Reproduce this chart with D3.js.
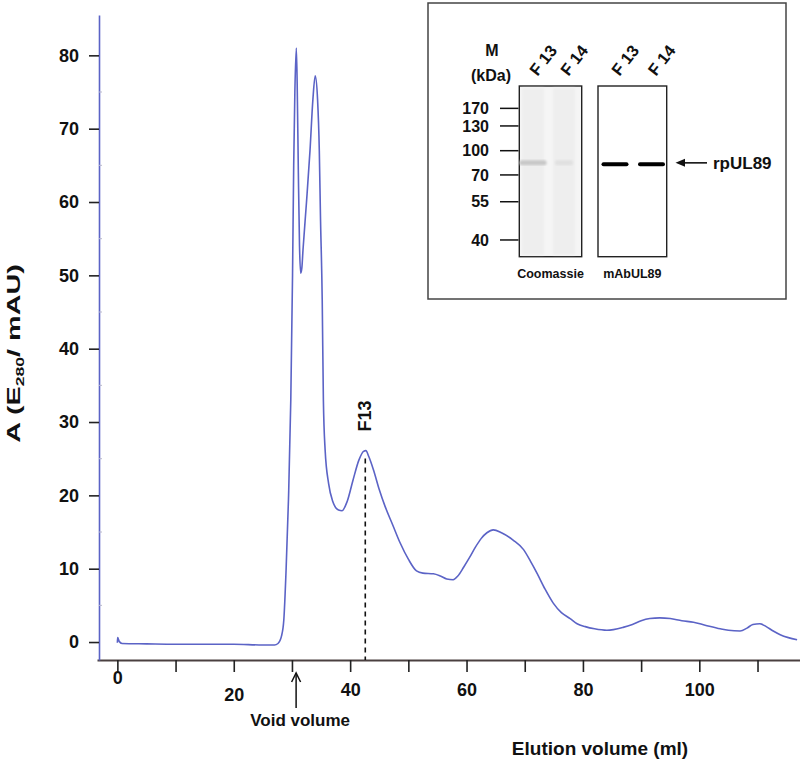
<!DOCTYPE html>
<html>
<head>
<meta charset="utf-8">
<script src="https://cdn.jsdelivr.net/npm/d3@7"></script>
<style>
  html, body { margin: 0; padding: 0; background: #fff; }
  svg { display: block; font-family: "Liberation Sans", Arial, sans-serif; }
</style>
</head>
<body>
<svg id="chart" width="800" height="761"></svg>
<script>
// ---------- DATA ----------
const elutionVolume = [0, 0.05, 0.3, 0.8, 5, 10, 15, 20, 25, 27, 27.6, 28.2, 28.6, 29.0, 29.4, 29.8, 30.1, 30.3, 30.5, 30.75, 30.9, 31.1, 31.3, 31.5, 31.7, 31.9, 32.5, 33.1, 33.6, 34.0, 34.4, 34.7, 34.9, 35.2, 35.4, 35.7, 36.3, 37, 38, 38.6, 39.5, 40.5, 41.5, 42.3, 42.7, 43.2, 44.0, 45, 46, 47.3, 48.6, 50, 51.4, 52.5, 54.3, 55.5, 56.6, 57.7, 58.5, 59.5, 60.5, 61.5, 62.5, 63.5, 64.6, 66, 68, 69.8, 71, 72.1, 73.5, 74.9, 76.3, 77.8, 79, 80.4, 82, 84.1, 86.9, 88.5, 90, 91.5, 93.2, 95, 97, 99, 101, 103.6, 105, 107, 108.2, 109.2, 110.4, 111.5, 112.7, 113.9, 115.3, 116.8];
const absorbance = [-0.1, 0.6, 0.1, -0.2, -0.25, -0.3, -0.3, -0.3, -0.4, -0.4, -0.2, 0.8, 3, 10, 19.4, 33, 50, 65, 75, 81, 76, 64, 54, 50.3, 51, 53.5, 60, 67, 74, 77.2, 74, 67, 58, 46.7, 33, 26.2, 21.6, 19.2, 18.0, 17.9, 19.2, 22.1, 24.8, 26.0, 26.1, 25.3, 23.5, 20.8, 18.5, 16, 13.5, 11.3, 9.7, 9.4, 9.3, 9.0, 8.6, 8.5, 9.0, 10.2, 11.5, 12.9, 14.1, 14.9, 15.3, 14.9, 13.9, 12.6, 11.0, 9.4, 7.2, 5.3, 4.0, 3.2, 2.5, 2.1, 1.8, 1.6, 2.0, 2.4, 2.9, 3.2, 3.3, 3.2, 2.9, 2.7, 2.3, 1.8, 1.6, 1.5, 1.9, 2.4, 2.5, 2.1, 1.5, 1.0, 0.6, 0.3];

const xTicks = [0, 10, 20, 30, 40, 50, 60, 70, 80, 90, 100, 110];
const xTickLabels = ["0", "", "20", "", "40", "", "60", "", "80", "", "100", ""];
const yTicks = [0, 10, 20, 30, 40, 50, 60, 70, 80];
const yMinorTicks = [5, 15, 25, 35, 45, 55, 65, 75];

const fractionLabel = "F13";
const fractionVolume = 42.6;
const voidVolume = 30.8;

// inset gel
const markerKDa = ["170", "130", "100", "70", "55", "40"];
const markerMobility = [0.131, 0.234, 0.379, 0.521, 0.678, 0.902];
const laneLabels = ["F 13", "F 14"];
const coomassieBandMobility = [0.449, 0.449];
const coomassieBandIntensity = [0.22, 0.12];
const westernBandMobility = [0.459, 0.459];
const westernBandIntensity = [1, 1];
const gelNames = ["Coomassie", "mAbUL89"];
const bandName = "rpUL89";

// ---------- CHART ----------
const svg = d3.select("#chart");
const curveColor = "#5b63c6";
const axisDark = "#4a4040";

const x = d3.scaleLinear().domain([-3.5, 117.3]).range([97, 800]);
const y = d3.scaleLinear().domain([-2.45, 85.5]).range([660, 15]);

// X axis
const xAxis = d3.axisBottom(x).tickValues(xTicks)
  .tickFormat((d, i) => xTickLabels[i]).tickSize(12).tickSizeOuter(0).tickPadding(6);
const gx = svg.append("g").attr("transform", `translate(0,${y(-2.45)})`).call(xAxis);
gx.select(".domain").attr("stroke", axisDark).attr("stroke-width", 2);
gx.selectAll(".tick line").attr("stroke", "#222").attr("stroke-width", 1.6);
gx.selectAll(".tick text")
  .attr("font-size", 18).attr("font-weight", "bold").attr("fill", "#111")
  .attr("font-family", "Liberation Sans, Arial, sans-serif")
  .attr("dy", d => d === 0 ? "0.35em" : d === 20 ? "1.3em" : "1.0em");

// Y axis
const yAxis = d3.axisLeft(y).tickValues(yTicks).tickSize(10).tickSizeOuter(0).tickPadding(10);
const gy = svg.append("g").attr("transform", `translate(${x(-3.5) + 2},0)`).call(yAxis);
gy.select(".domain").attr("stroke", curveColor).attr("stroke-width", 1.6);
gy.selectAll(".tick line").attr("stroke", "#222").attr("stroke-width", 1.6);
gy.selectAll(".tick text")
  .attr("font-size", 18).attr("font-weight", "bold").attr("fill", "#111")
  .attr("font-family", "Liberation Sans, Arial, sans-serif");
gy.selectAll(".minor").data(yMinorTicks).join("line")
  .attr("x1", 0).attr("x2", 3).attr("y1", d => y(d)).attr("y2", d => y(d))
  .attr("stroke", "#b8b8cc").attr("stroke-width", 1);

// Y label (stretched along its reading direction, as in the original)
const yl = svg.append("text")
  .attr("transform", "translate(20,353.5) rotate(-90) scale(1.6,1)")
  .attr("text-anchor", "middle").attr("font-size", 18).attr("font-weight", "bold").attr("fill", "#111");
yl.append("tspan").text("A (E");
yl.append("tspan").text("280").attr("font-size", 11).attr("dy", 4);
yl.append("tspan").text("/ mAU)").attr("dy", -4);

// X label
svg.append("text").attr("x", 600).attr("y", 755).attr("text-anchor", "middle")
  .attr("font-size", 19).attr("font-weight", "bold").attr("fill", "#111")
  .text("Elution volume (ml)");

// Fraction dashed line
const peakIdx = d3.minIndex(elutionVolume, v => Math.abs(v - fractionVolume));
svg.append("line")
  .attr("x1", x(fractionVolume)).attr("x2", x(fractionVolume))
  .attr("y1", y(absorbance[peakIdx]) + 8).attr("y2", y(-2.45))
  .attr("stroke", "#111").attr("stroke-width", 1.6).attr("stroke-dasharray", "5,4");
svg.append("text")
  .attr("transform", `translate(${x(fractionVolume) + 6},416) rotate(-90)`)
  .attr("text-anchor", "middle").attr("font-size", 18).attr("font-weight", "bold").attr("fill", "#111")
  .text(fractionLabel);

// Curve
const pts = elutionVolume.map((v, i) => [v, absorbance[i]]);
const line = d3.line().x(d => x(d[0])).y(d => y(d[1])).curve(d3.curveMonotoneX);
svg.append("path").datum(pts).attr("d", line)
  .attr("fill", "none").attr("stroke", curveColor).attr("stroke-width", 1.6);

// Void volume arrow
const vx = x(voidVolume) - 0.5;
svg.append("line").attr("x1", vx).attr("x2", vx).attr("y1", 673).attr("y2", 708)
  .attr("stroke", "#111").attr("stroke-width", 1.5);
svg.append("path").attr("d", `M${vx - 4.5},682 L${vx},673 L${vx + 4.5},682`)
  .attr("fill", "none").attr("stroke", "#111").attr("stroke-width", 1.5);
svg.append("text").attr("x", vx + 4).attr("y", 726).attr("text-anchor", "middle")
  .attr("font-size", 17).attr("font-weight", "bold").attr("fill", "#111")
  .text("Void volume");

// ---------- INSET ----------
const inset = svg.append("g");
inset.append("rect").attr("x", 428).attr("y", 3).attr("width", 358).attr("height", 296)
  .attr("fill", "#fff").attr("stroke", "#444").attr("stroke-width", 1.5);

const gelTop = 86, gelBottom = 256.7;
const gy2 = d3.scaleLinear().domain([0, 1]).range([gelTop, gelBottom]);
const gels = [
  { x0: 519.3, x1: 581.7, fill: "#f5f5f5", lanes: [533, 564], bands: coomassieBandMobility, inten: coomassieBandIntensity, bw: [27, 18], bh: 5 },
  { x0: 598, x1: 666.7, fill: "#ffffff", lanes: [615, 651.5], bands: westernBandMobility, inten: westernBandIntensity, bw: [27, 27], bh: 4 }
];
const defs = svg.append("defs");
defs.append("filter").attr("id", "blur").append("feGaussianBlur").attr("stdDeviation", 1.2);
defs.append("filter").attr("id", "blur2").append("feGaussianBlur").attr("stdDeviation", 0.5);

gels.forEach((g, gi) => {
  inset.append("rect").attr("x", g.x0).attr("y", gelTop).attr("width", g.x1 - g.x0).attr("height", gelBottom - gelTop)
    .attr("fill", g.fill).attr("stroke", "#222").attr("stroke-width", 1.4);
  if (gi === 0) {
    g.lanes.forEach(lx => {
      inset.append("rect").attr("x", lx - 11).attr("y", gelTop + 2).attr("width", 22).attr("height", gelBottom - gelTop - 4)
        .attr("fill", "#eeeeee").attr("filter", "url(#blur)");
    });
  }
  g.lanes.forEach((lx, li) => {
    const shade = Math.round(255 * (1 - g.inten[li]));
    const s = gi === 0 ? shade : shade * 0.9;
    inset.append("rect")
      .attr("x", lx - g.bw[li] / 2).attr("y", gy2(g.bands[li]) - g.bh / 2)
      .attr("width", g.bw[li]).attr("height", g.bh).attr("rx", 2)
      .attr("fill", d3.rgb(s, s, s))
      .attr("filter", gi === 0 ? "url(#blur)" : "url(#blur2)");
    inset.append("text")
      .attr("transform", `translate(${lx + 10},${60}) rotate(-52)`)
      .attr("text-anchor", "middle").attr("dominant-baseline", "central")
      .attr("font-size", 16.5).attr("font-weight", "bold").attr("fill", "#111")
      .text(laneLabels[li]);
  });
  inset.append("text").attr("x", (g.x0 + g.x1) / 2).attr("y", 278)
    .attr("text-anchor", "middle").attr("font-size", 12.5).attr("font-weight", "bold").attr("fill", "#111")
    .text(gelNames[gi]);
});

// markers
markerKDa.forEach((m, i) => {
  const yy = gy2(markerMobility[i]);
  inset.append("line").attr("x1", 500).attr("x2", 518.5).attr("y1", yy).attr("y2", yy)
    .attr("stroke", "#111").attr("stroke-width", 1.5);
  inset.append("text").attr("x", 489).attr("y", yy).attr("dy", "0.36em").attr("text-anchor", "end")
    .attr("font-size", 16).attr("font-weight", "bold").attr("fill", "#111").text(m);
});
inset.append("text").attr("x", 492).attr("y", 55.5).attr("text-anchor", "middle")
  .attr("font-size", 16).attr("font-weight", "bold").attr("fill", "#111").text("M");
inset.append("text").attr("x", 491).attr("y", 81).attr("text-anchor", "middle")
  .attr("font-size", 16).attr("font-weight", "bold").attr("fill", "#111").text("(kDa)");

// rpUL89 arrow
const ay = gy2(westernBandMobility[0]) - 1.5;
inset.append("line").attr("x1", 707).attr("x2", 682).attr("y1", ay).attr("y2", ay)
  .attr("stroke", "#111").attr("stroke-width", 1.6);
inset.append("path").attr("d", `M675.5,${ay} L685,${ay - 4} L685,${ay + 4} Z`).attr("fill", "#111");
inset.append("text").attr("x", 713).attr("y", ay).attr("dy", "0.36em")
  .attr("font-size", 17).attr("font-weight", "bold").attr("fill", "#111").text(bandName);
</script>
</body>
</html>
